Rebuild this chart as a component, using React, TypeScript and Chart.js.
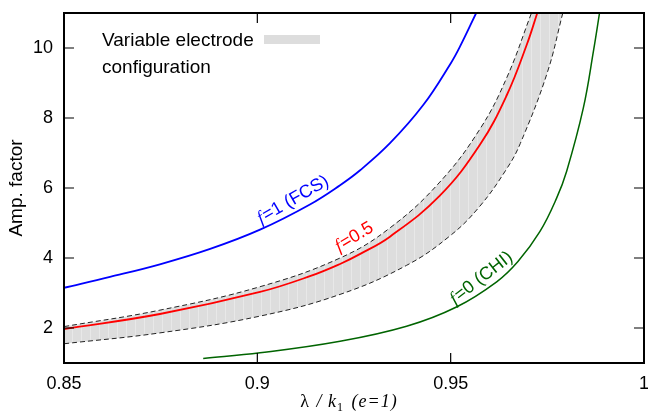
import React, { useEffect, useRef } from "react";
import { Chart, registerables } from "chart.js";
Chart.register(...registerables);

// f = 1 (FCS)
const blueX = [0.85, 0.8619, 0.8748, 0.8878, 0.9007, 0.9136, 0.9214, 0.9265, 0.9343, 0.9429, 0.95, 0.9524, 0.9566];
const blueY = [3.15, 3.46, 3.82, 4.26, 4.81, 5.53, 6.08, 6.5, 7.28, 8.37, 9.56, 10.04, 11.0];
// f = 0.5
const redX = [0.85, 0.8748, 0.9007, 0.9136, 0.9214, 0.9265, 0.9343, 0.9472, 0.9576, 0.9645, 0.9697, 0.9724];
const redY = [1.97, 2.4, 3.03, 3.48, 3.83, 4.11, 4.61, 5.78, 7.24, 8.65, 10.1, 11.0];
// variable electrode configuration: upper / lower bounds
const upperX = [0.85, 0.8748, 0.9007, 0.9214, 0.9343, 0.9472, 0.9576, 0.9645, 0.9709];
const upperY = [2.04, 2.51, 3.18, 4.0, 4.86, 6.17, 7.69, 9.15, 11.0];
const lowerX = [0.85, 0.8748, 0.9007, 0.9214, 0.9386, 0.9498, 0.9574, 0.9645, 0.968, 0.975, 0.979];
const lowerY = [1.55, 1.86, 2.34, 2.96, 3.79, 4.63, 5.46, 6.55, 7.27, 9.3, 11.0];
// f = 0 (CHI)
const greenX = [0.886, 0.9007, 0.9214, 0.9386, 0.9515, 0.9619, 0.9674, 0.9731, 0.9774, 0.98, 0.9843, 0.987, 0.9885];
const greenY = [1.13, 1.29, 1.62, 2.05, 2.6, 3.32, 3.9, 4.76, 5.71, 6.48, 8.28, 9.96, 11.0];

const xTicks = [0.85, 0.9, 0.95, 1];
const xTickLabels = ["0.85", "0.9", "0.95", "1"];
const yTicks = [2, 4, 6, 8, 10];
const yTickLabels = ["2", "4", "6", "8", "10"];

const legendLines = ["Variable electrode", "configuration"];
const yTitle = "Amp. factor";

const curveLabels = [
  { rest: "=1 (FCS)", color: "#0000ff", x: 261, y: 224, angle: -30 },
  { rest: "=0.5", color: "#ff0000", x: 339, y: 252, angle: -31 },
  { rest: "=0 (CHI)", color: "#006400", x: 455, y: 305, angle: -38 },
];

const SANS = "'Liberation Sans', Arial, sans-serif";
const SERIF = "'Liberation Serif', 'Times New Roman', serif";
const BAND = "#dddddd";

const toPts = (xs: number[], ys: number[]) => xs.map((x, i) => ({ x, y: ys[i] }));

function makePattern(ctx: CanvasRenderingContext2D) {
  const c = document.createElement("canvas");
  c.width = 9;
  c.height = 4;
  const g = c.getContext("2d")!;
  g.fillStyle = BAND;
  g.fillRect(0, 0, 9, 4);
  g.fillStyle = "#e8e8e8";
  g.fillRect(0, 0, 1, 4);
  return ctx.createPattern(c, "repeat") || BAND;
}

function tracePath(ctx: CanvasRenderingContext2D, pts: any[], reverse: boolean, first: boolean) {
  const arr = reverse ? [...pts].reverse() : pts;
  arr.forEach((p, i) => {
    if (i === 0) {
      if (first) ctx.moveTo(p.x, p.y);
      else ctx.lineTo(p.x, p.y);
      return;
    }
    const prev = arr[i - 1];
    if (prev.cp1x === undefined || p.cp1x === undefined) {
      ctx.lineTo(p.x, p.y);
    } else if (!reverse) {
      ctx.bezierCurveTo(prev.cp2x, prev.cp2y, p.cp1x, p.cp1y, p.x, p.y);
    } else {
      ctx.bezierCurveTo(prev.cp1x, prev.cp1y, p.cp2x, p.cp2y, p.x, p.y);
    }
  });
}

const bandPlugin = {
  id: "band",
  beforeDatasetsDraw(chart: any) {
    const ctx = chart.ctx as CanvasRenderingContext2D;
    const up = chart.getDatasetMeta(1);
    const lo = chart.getDatasetMeta(2);
    up.dataset.updateControlPoints(chart.chartArea, "x");
    lo.dataset.updateControlPoints(chart.chartArea, "x");
    const ca = chart.chartArea;
    ctx.save();
    ctx.beginPath();
    ctx.rect(ca.left, ca.top, ca.right - ca.left, ca.bottom - ca.top);
    ctx.clip();
    ctx.beginPath();
    tracePath(ctx, up.data, false, true);
    tracePath(ctx, lo.data, true, false);
    ctx.closePath();
    ctx.fillStyle = makePattern(ctx) as any;
    ctx.fill();
    ctx.restore();
  },
};

const decorPlugin = {
  id: "decor",
  afterDraw(chart: any) {
    const ctx = chart.ctx as CanvasRenderingContext2D;
    const ca = chart.chartArea;
    const xs = chart.scales.x;
    const ys = chart.scales.y;
    ctx.save();
    // inward ticks on all four sides
    ctx.strokeStyle = "#000";
    ctx.lineWidth = 1.2;
    ctx.beginPath();
    xTicks.forEach((v) => {
      const px = xs.getPixelForValue(v);
      ctx.moveTo(px, ca.bottom);
      ctx.lineTo(px, ca.bottom - 10);
      ctx.moveTo(px, ca.top);
      ctx.lineTo(px, ca.top + 10);
    });
    yTicks.forEach((v) => {
      const py = ys.getPixelForValue(v);
      ctx.moveTo(ca.left, py);
      ctx.lineTo(ca.left + 10, py);
      ctx.moveTo(ca.right, py);
      ctx.lineTo(ca.right - 10, py);
    });
    ctx.stroke();
    // frame
    ctx.lineWidth = 2;
    ctx.strokeRect(ca.left, ca.top, ca.right - ca.left, ca.bottom - ca.top);

    // legend
    ctx.fillStyle = "#000";
    ctx.font = `19px ${SANS}`;
    ctx.textAlign = "left";
    ctx.textBaseline = "alphabetic";
    ctx.fillText(legendLines[0], 102, 46);
    ctx.fillText(legendLines[1], 102, 73);
    ctx.fillStyle = BAND;
    ctx.fillRect(264, 35, 56, 9);

    // curve labels
    curveLabels.forEach((l) => {
      ctx.save();
      ctx.translate(l.x, l.y);
      ctx.rotate((l.angle * Math.PI) / 180);
      ctx.fillStyle = l.color;
      ctx.font = `italic 18px ${SERIF}`;
      ctx.fillText("f", 0, 0);
      const fw = ctx.measureText("f").width;
      ctx.font = `18px ${SANS}`;
      ctx.fillText(l.rest, fw + 1, 0);
      ctx.restore();
    });

    // y title
    ctx.save();
    ctx.fillStyle = "#000";
    ctx.translate(17, 188);
    ctx.rotate(-Math.PI / 2);
    ctx.font = `19px ${SANS}`;
    ctx.textAlign = "center";
    ctx.textBaseline = "middle";
    ctx.fillText(yTitle, 0, 0);
    ctx.restore();

    // x title: λ / k₁ (e=1)
    ctx.fillStyle = "#000";
    ctx.textAlign = "left";
    ctx.textBaseline = "alphabetic";
    const parts = [
      { t: "\u03bb", f: `18px ${SERIF}`, dy: 0, gap: 3 },
      { t: " / ", f: `italic 18px ${SERIF}`, dy: 0, gap: 2 },
      { t: "k", f: `italic 18px ${SERIF}`, dy: 0, gap: 1 },
      { t: "1", f: `12px ${SERIF}`, dy: 4, gap: 4 },
      { t: " (", f: `italic 18px ${SERIF}`, dy: 0, gap: 1 },
      { t: "e", f: `italic 18px ${SERIF}`, dy: 0, gap: 1 },
      { t: "=", f: `italic 18px ${SERIF}`, dy: 0, gap: 1 },
      { t: "1", f: `italic 18px ${SERIF}`, dy: 0, gap: 1 },
      { t: ")", f: `italic 18px ${SERIF}`, dy: 0, gap: 0 },
    ];
    let total = 0;
    parts.forEach((p) => {
      ctx.font = p.f;
      total += ctx.measureText(p.t).width + p.gap;
    });
    let cx = 348.5 - total / 2;
    const base = 407;
    parts.forEach((p) => {
      ctx.font = p.f;
      ctx.fillText(p.t, cx, base + p.dy);
      cx += ctx.measureText(p.t).width + p.gap;
    });
    ctx.restore();
  },
};

const zeroPad = (s: any) => {
  s.paddingTop = 0;
  s.paddingBottom = 0;
  s.paddingLeft = 0;
  s.paddingRight = 0;
};

export default function App() {
  const ref = useRef<HTMLCanvasElement | null>(null);
  useEffect(() => {
    if (!ref.current) return;
    const lineBase = {
      pointRadius: 0,
      pointHoverRadius: 0,
      tension: 0.4,
      fill: false,
    };
    const chart = new Chart(ref.current, {
      type: "line",
      data: {
        datasets: [
          { ...lineBase, label: "f=0.5", data: toPts(redX, redY), borderColor: "#ff0000", borderWidth: 1.8 },
          { ...lineBase, label: "upper", data: toPts(upperX, upperY), borderColor: "#222", borderWidth: 1, borderDash: [5, 3] },
          { ...lineBase, label: "lower", data: toPts(lowerX, lowerY), borderColor: "#222", borderWidth: 1, borderDash: [5, 3] },
          { ...lineBase, label: "f=1 (FCS)", data: toPts(blueX, blueY), borderColor: "#0000ff", borderWidth: 1.8 },
          { ...lineBase, label: "f=0 (CHI)", data: toPts(greenX, greenY), borderColor: "#006400", borderWidth: 1.5 },
        ],
      },
      options: {
        responsive: false,
        animation: false,
        devicePixelRatio: 1,
        layout: { padding: { top: 13, right: 4, left: 0, bottom: 0 } },
        plugins: { legend: { display: false }, tooltip: { enabled: false } },
        events: [],
        scales: {
          x: {
            type: "linear",
            min: 0.85,
            max: 1,
            grid: { display: false, drawTicks: false },
            border: { display: false },
            afterBuildTicks: (s: any) => {
              s.ticks = xTicks.map((v) => ({ value: v }));
            },
            afterFit: (s: any) => {
              s.height = 57;
              zeroPad(s);
            },
            ticks: {
              padding: 10,
              color: "#000",
              font: { family: SANS, size: 18 },
              maxRotation: 0,
              autoSkip: false,
              callback: (_v: any, i: number) => xTickLabels[i],
            },
          },
          y: {
            type: "linear",
            min: 1,
            max: 11,
            grid: { display: false, drawTicks: false },
            border: { display: false },
            afterBuildTicks: (s: any) => {
              s.ticks = yTicks.map((v) => ({ value: v }));
            },
            afterFit: (s: any) => {
              s.width = 64;
              zeroPad(s);
            },
            ticks: {
              padding: 11,
              color: "#000",
              font: { family: SANS, size: 18 },
              autoSkip: false,
              callback: (_v: any, i: number) => yTickLabels[i],
            },
          },
        },
      },
      plugins: [bandPlugin, decorPlugin],
    } as any);
    return () => chart.destroy();
  }, []);
  return (
    <div style={{ position: "fixed", left: 0, top: 0, width: 648, height: 420, background: "#fff" }}>
      <canvas ref={ref} width={648} height={420} style={{ display: "block" }} />
    </div>
  );
}
